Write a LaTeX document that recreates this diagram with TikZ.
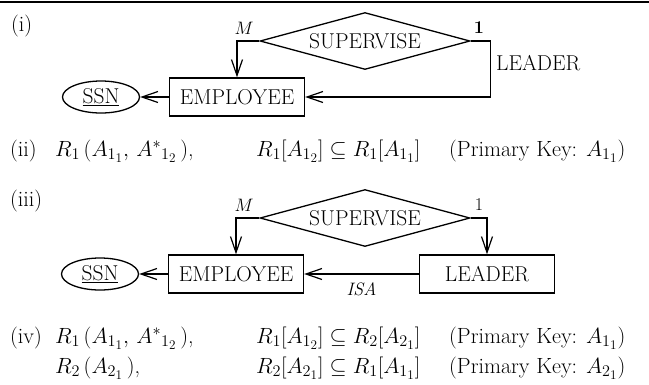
\RequirePackage{fix-cm}
\documentclass[tikz,border=0pt]{standalone}
\usetikzlibrary{arrows.meta,shapes.geometric}
\makeatletter
\renewcommand\defaultscriptratio{.74}
\renewcommand\defaultscriptscriptratio{.6}
\makeatother
\begin{document}
\begin{tikzpicture}[x=1pt,y=-1pt,
  ln/.style={line width=1.3pt},
  arr/.style={ln,-{Straight Barb[length=16pt,width=11pt,line width=1.2pt]}},
  lab/.style={font=\fontsize{21.5}{25}\selectfont},
  ent/.style={draw,ln,lab,rectangle,minimum width=135pt,minimum height=38pt,inner sep=0pt},
  rel/.style={draw,ln,lab,diamond,aspect=3.7,minimum width=210pt,minimum height=57pt,inner sep=0pt},
  att/.style={draw,ln,lab,ellipse,minimum width=77pt,minimum height=32pt,inner sep=0pt},
  card/.style={inner sep=0pt,font=\fontsize{18}{21}\selectfont},
  txt/.style={inner sep=0pt,anchor=base west,font=\fontsize{22}{26}\selectfont},
]
\useasboundingbox (0,0) rectangle (649,384);
\draw[line width=2.5pt] (0,2) -- (649,2);
% (i)
\node[txt] (li) at (11,31) {(i)};
\node[rel] (sup1) at (365,41) {SUPERVISE};
\node[ent] (emp1) at (237,97) {EMPLOYEE};
\node[att] (ssn1) at (101,97) {\underline{SSN}};
\node[card] (m1) at (244,28) {$M$};
\node[card] (o1) at (479,28) {\textbf{1}};
\node[lab,inner sep=0pt,anchor=west] (ld1) at (496,63) {LEADER};
\draw[arr] (sup1.west) -| (emp1.north);
\draw[arr] (sup1.east) -- ++(20,0) |- (emp1.east);
\draw[arr] (emp1.west) -- (ssn1.east);
% (ii)
\node[txt] (lii) at (10,156) {(ii)};
\node[txt] (f1) at (55,156) {$R_1\,(A_{1_1},\,{A^*}_{1_2}\,)$,};
\node[txt] (f2) at (256,156) {$R_1[A_{1_2}] \subseteq R_1[A_{1_1}]$};
\node[txt] (f3) at (449,156) {(Primary Key: $A_{1_1}$)};
% (iii)
\node[txt] (liii) at (10,206) {(iii)};
\node[rel] (sup2) at (365,218) {SUPERVISE};
\node[ent] (emp2) at (236,274) {EMPLOYEE};
\node[att] (ssn2) at (100,274) {\underline{SSN}};
\node[ent] (lead2) at (487,274) {LEADER};
\node[card] (m2) at (244,205) {$M$};
\node[card] (o2) at (479,205) {1};
\draw[arr] (sup2.west) -| (emp2.north);
\draw[arr] (sup2.east) -| (lead2.north);
\draw[arr] (lead2.west) -- (emp2.east) node[card,pos=0.5,below=8pt] (isa) {\textit{ISA}};
\draw[arr] (emp2.west) -- (ssn2.east);
% (iv)
\node[txt] (liv) at (10,343) {(iv)};
\node[txt] (g1) at (55,343) {$R_1\,(A_{1_1},\,{A^*}_{1_2}\,)$,};
\node[txt] (g2) at (256,343) {$R_1[A_{1_2}] \subseteq R_2[A_{2_1}]$};
\node[txt] (g3) at (449,343) {(Primary Key: $A_{1_1}$)};
\node[txt] (h1) at (55,373) {$R_2\,(A_{2_1}\,)$,};
\node[txt] (h2) at (256,373) {$R_2[A_{2_1}] \subseteq R_1[A_{1_1}]$};
\node[txt] (h3) at (449,373) {(Primary Key: $A_{2_1}$)};
\end{tikzpicture}
\end{document}
